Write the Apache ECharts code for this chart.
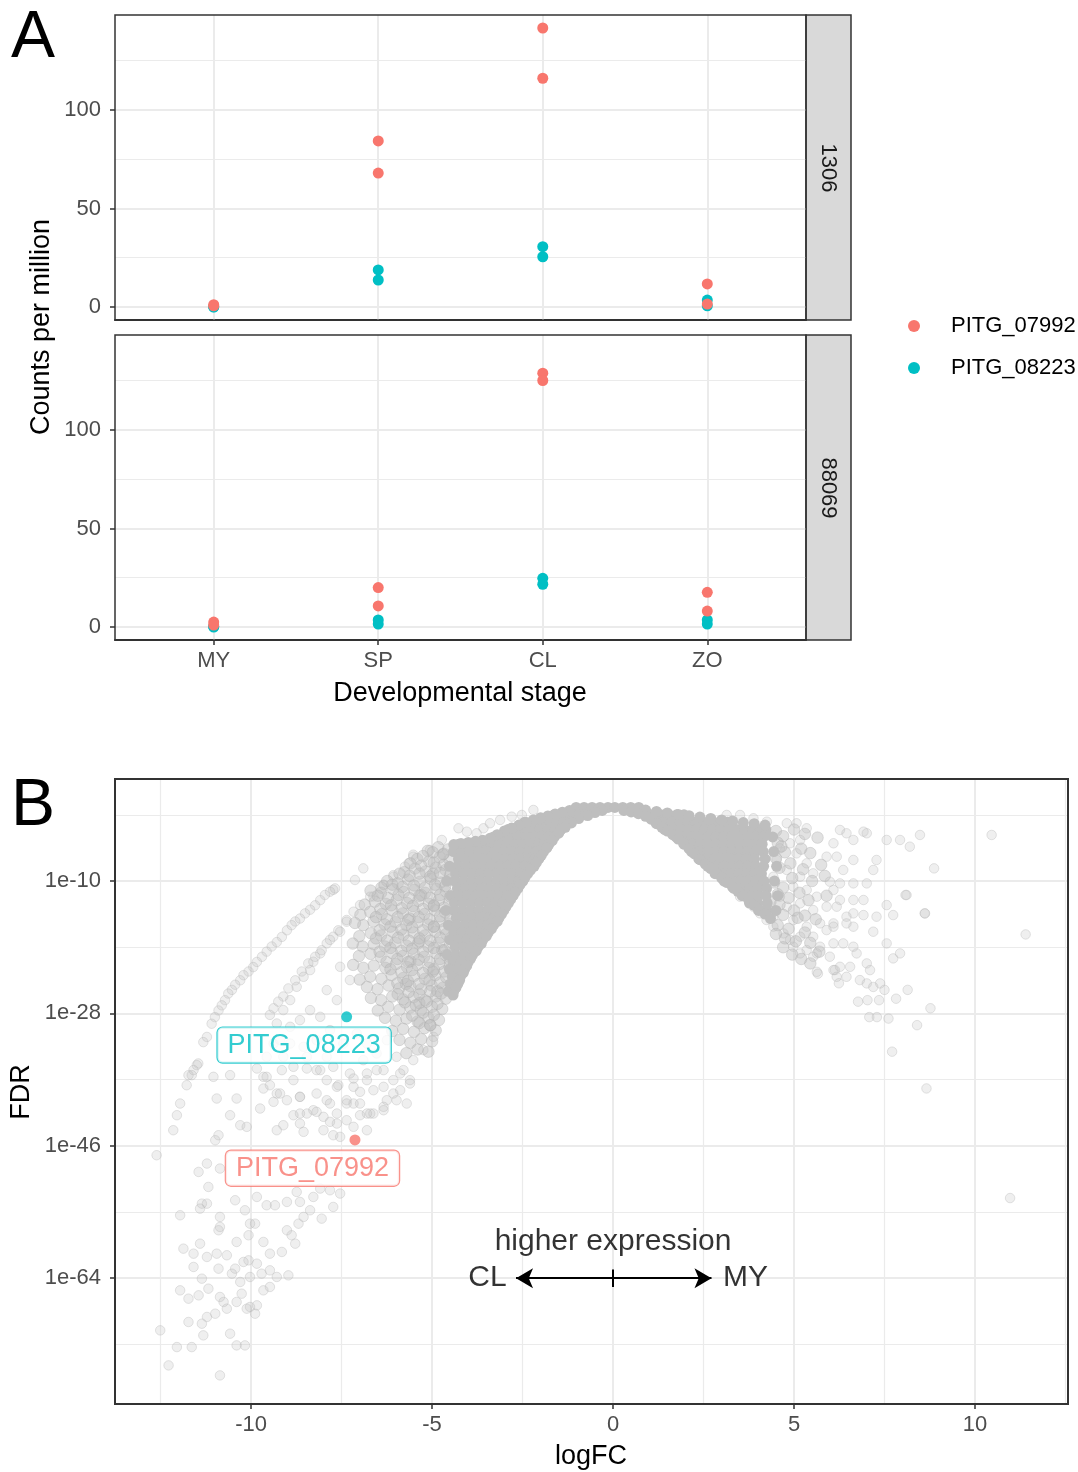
<!DOCTYPE html>
<html>
<head>
<meta charset="utf-8">
<title>PITG_07992 / PITG_08223 expression</title>
<script src="https://cdn.jsdelivr.net/npm/echarts@6.0.0/dist/echarts.min.js"></script>
<style>
  html, body { margin: 0; padding: 0; background: #fff; }
  #chart { width: 1078px; height: 1472px; }
</style>
</head>
<body>
<div id="chart"></div>
<script>
// ---- panel A: counts per million, two replicates per stage ----
var stages = ['MY', 'SP', 'CL', 'ZO'];
var strains = ['1306', '88069'];
var genes = ['PITG_07992', 'PITG_08223'];
var geneColors = ['#F8766D', '#00BFC4'];
var cpm1306_07992 = [[1.2, 0.6], [84.3, 68.0], [141.6, 116.1], [11.7, 1.5]];
var cpm1306_08223 = [[0, 0.1], [18.8, 13.7], [30.6, 25.5], [3.5, 0.6]];
var cpm88069_07992 = [[2.5, 1.0], [20.0, 10.7], [128.8, 125.1], [17.6, 8.1]];
var cpm88069_08223 = [[0, 0.3], [3.6, 1.5], [24.7, 21.7], [3.6, 1.5]];
var cpmTicks = [0, 50, 100];
var cpmMinor = [25, 75, 125];

// ---- panel B: logFC vs log10(FDR) ----
var fcTicks = [-10, -5, 0, 5, 10];
var fcMinor = [-12.5, -7.5, -2.5, 2.5, 7.5, 12.5];
var fdrTicks = [-64, -46, -28, -10];
var fdrMinor = [-73, -55, -37, -19, -1];

// dense core, one row per log10(FDR) level: [logFDR, logFC, logFC, ...]
var coreLeftRows = [
  [0, -1.02, -0.8, -0.58, -0.36, -0.14],
  [-1, -1.62, -1.4, -1.18, -0.96, -0.78],
  [-2, -2.44, -2.22, -2.0, -1.78, -1.56, -1.36, -1.18],
  [-3, -2.9, -2.68, -2.46, -2.24, -2.02, -1.8, -1.6, -1.44],
  [-4, -3.3, -3.08, -2.86, -2.64, -2.42, -2.2, -1.98, -1.78, -1.62],
  [-5, -4.26, -4.04, -3.82, -3.6, -3.38, -3.16, -2.94, -2.72, -2.5, -2.28, -2.06, -1.9, -1.77],
  [-6, -4.41, -4.18, -3.95, -3.72, -3.49, -3.26, -3.03, -2.8, -2.57, -2.34, -2.12, -1.92],
  [-7, -4.27, -4.06, -3.85, -3.64, -3.43, -3.22, -3.0, -2.78, -2.56, -2.34, -2.16, -2.05],
  [-8, -4.52, -4.29, -4.06, -3.83, -3.6, -3.37, -3.14, -2.91, -2.68, -2.45, -2.26, -2.18],
  [-9, -4.35, -4.12, -3.89, -3.66, -3.44, -3.22, -3.0, -2.78, -2.56, -2.36],
  [-10, -4.6, -4.37, -4.14, -3.91, -3.68, -3.45, -3.22, -3.0, -2.78, -2.6, -2.49],
  [-11, -4.3, -4.08, -3.86, -3.64, -3.42, -3.2, -3.0, -2.8, -2.63],
  [-12, -4.48, -4.25, -4.02, -3.79, -3.56, -3.34, -3.12, -2.92, -2.76],
  [-13, -4.38, -4.15, -3.92, -3.69, -3.46, -3.24, -3.04, -2.89],
  [-14, -4.62, -4.39, -4.16, -3.93, -3.7, -3.47, -3.24, -3.02],
  [-15, -4.33, -4.1, -3.88, -3.66, -3.44, -3.28, -3.15],
  [-16, -4.55, -4.32, -4.09, -3.86, -3.64, -3.46, -3.3],
  [-17, -4.4, -4.17, -3.94, -3.72, -3.52, -3.45],
  [-18, -4.5, -4.27, -4.04, -3.82, -3.6],
  [-19, -4.36, -4.13, -3.92, -3.73],
  [-20, -4.58, -4.35, -4.12, -3.88],
  [-21, -4.42, -4.2, -4.0],
  [-22, -4.52, -4.3, -4.1],
  [-23, -4.44, -4.22],
  [-24, -4.5, -4.29],
  [-25, -4.55, -4.4]
];
var coreRightRows = [
  [0, 0.05, 0.27, 0.49, 0.71],
  [-1, 0.88, 1.1, 1.32, 1.54, 1.76, 1.96],
  [-2, 1.18, 1.4, 1.62, 1.84, 2.06, 2.28, 2.5, 2.72, 2.94, 3.16, 3.3],
  [-3, 1.43, 1.65, 1.87, 2.09, 2.31, 2.53, 2.75, 2.97, 3.19, 3.41, 3.63, 3.85, 4.07, 4.22],
  [-4, 1.74, 1.96, 2.18, 2.4, 2.62, 2.84, 3.06, 3.28, 3.5, 3.72, 3.94, 4.16, 4.41],
  [-5, 1.97, 2.19, 2.41, 2.63, 2.85, 3.07, 3.29, 3.51, 3.73, 3.95, 4.12],
  [-6, 2.17, 2.39, 2.61, 2.83, 3.05, 3.27, 3.49, 3.71, 3.93, 4.15, 4.44],
  [-7, 2.37, 2.59, 2.81, 3.03, 3.25, 3.47, 3.69, 3.91, 4.2],
  [-8, 2.62, 2.84, 3.06, 3.28, 3.5, 3.72, 3.94, 4.16, 4.52],
  [-9, 2.82, 3.04, 3.26, 3.48, 3.7, 3.92, 4.1],
  [-10, 3.07, 3.29, 3.51, 3.73, 3.95, 4.17, 4.46],
  [-11, 3.34, 3.56, 3.78, 4.0, 4.24],
  [-12, 3.57, 3.79, 4.01, 4.23, 4.55],
  [-13, 3.77, 3.99, 4.26],
  [-14, 4.02, 4.24, 4.5]
];
// points along the edges of the dense core [logFC, logFDR]
var coreEdge = [
  [-1.2, -0.4], [-1.4, -0.65], [-1.6, -0.9], [-1.8, -1.15], [-2.0, -1.4], [-2.2, -1.7], [-2.4, -2.05], [-2.6, -2.4],
  [-2.8, -2.8], [-3.0, -3.2], [-3.2, -3.7], [-3.4, -4.2], [-3.6, -4.45], [-3.8, -4.6], [-4.0, -4.75], [-4.2, -4.9], [-4.4, -5.05],
  [-0.3, -0.4], [-0.5, -0.7], [-0.7, -1.1], [-0.95, -1.5], [-1.15, -2.1], [-1.32, -2.7], [-1.5, -3.5], [-1.68, -4.5],
  [-1.83, -5.5], [-1.98, -6.5], [-2.12, -7.5], [-2.28, -8.5], [-2.43, -9.5], [-2.57, -10.5], [-2.7, -11.5], [-2.83, -12.5],
  [-2.96, -13.5], [-3.08, -14.5], [-3.2, -15.5], [-3.36, -16.5], [-3.5, -17.5], [-3.64, -18.5], [-3.78, -19.5],
  [-3.93, -20.5], [-4.04, -21.5], [-4.14, -22.5], [-4.24, -23.5], [-4.34, -24.5], [-4.42, -25.5],
  [0.9, -0.35], [1.2, -0.55], [1.5, -0.75], [1.8, -0.95], [2.1, -1.12], [2.4, -1.3], [2.7, -1.5], [3.0, -1.7],
  [3.3, -1.85], [3.6, -2.05], [3.9, -2.2], [4.2, -2.4],
  [0.3, -0.4], [0.5, -0.6], [0.7, -0.85], [0.9, -1.2], [1.05, -1.6], [1.2, -2.2], [1.35, -2.7], [1.5, -3.2],
  [1.65, -3.7], [1.8, -4.3], [1.95, -4.9], [2.1, -5.6], [2.25, -6.3], [2.4, -7.1], [2.55, -7.7], [2.7, -8.3],
  [2.85, -8.9], [3.0, -9.6], [3.15, -10.2], [3.3, -10.8], [3.45, -11.4], [3.6, -12.0], [3.75, -12.6], [3.9, -13.3],
  [4.05, -13.9], [4.2, -14.5], [4.35, -15.1]
];
// crowded but not solid zone left of the core
var midLeft = [
  [-4.56, -5.7], [-4.83, -5.4], [-5.12, -5.9],
  [-4.52, -7.1], [-4.79, -6.8], [-5.08, -7.3], [-5.41, -7.0],
  [-4.63, -8.5], [-4.9, -8.2], [-5.18, -8.7], [-5.47, -8.3], [-5.77, -8.8],
  [-4.51, -9.9], [-4.76, -10.2], [-5.04, -9.7], [-5.33, -10.1], [-5.66, -9.8], [-5.95, -10.3], [-6.24, -10.0],
  [-4.62, -11.4], [-4.88, -11.1], [-5.19, -11.6], [-5.49, -11.2], [-5.78, -11.5], [-6.08, -11.1], [-6.41, -11.6], [-6.7, -11.3],
  [-4.53, -12.9], [-4.81, -12.6], [-5.09, -13.1], [-5.38, -12.7], [-5.69, -13.0], [-5.98, -12.6], [-6.28, -13.1], [-6.58, -12.8], [-6.86, -13.2],
  [-4.64, -14.3], [-4.92, -14.0], [-5.21, -14.5], [-5.5, -14.1], [-5.81, -14.4], [-6.1, -14.0], [-6.39, -14.5], [-6.71, -14.2], [-6.98, -14.6],
  [-4.52, -15.8], [-4.79, -15.5], [-5.11, -15.9], [-5.4, -15.6], [-5.71, -16.0], [-6.01, -15.6], [-6.31, -15.9], [-6.62, -15.5], [-6.9, -16.0], [-7.13, -15.7],
  [-4.61, -17.2], [-4.91, -16.9], [-5.2, -17.4], [-5.51, -17.0], [-5.79, -17.3], [-6.09, -16.9], [-6.41, -17.4], [-6.69, -17.1], [-7.01, -17.5],
  [-4.5, -18.7], [-4.81, -18.4], [-5.1, -18.9], [-5.39, -18.5], [-5.7, -18.8], [-6.02, -18.4], [-6.3, -18.9], [-6.61, -18.6], [-6.92, -18.9], [-7.19, -18.5],
  [-4.62, -20.1], [-4.9, -19.8], [-5.22, -20.3], [-5.5, -19.9], [-5.81, -20.2], [-6.1, -19.8], [-6.42, -20.3], [-6.7, -19.9], [-7.02, -20.2],
  [-4.52, -21.6], [-4.8, -21.3], [-5.09, -21.8], [-5.41, -21.4], [-5.69, -21.7], [-6.0, -21.3], [-6.29, -21.8], [-6.61, -21.5], [-6.9, -21.8], [-7.18, -21.4],
  [-4.61, -23.1], [-4.91, -22.8], [-5.2, -23.3], [-5.5, -22.9], [-5.8, -23.2], [-6.12, -22.8], [-6.4, -23.3], [-6.71, -23.0], [-7.0, -23.4],
  [-4.7, -24.5], [-5.01, -24.2], [-5.3, -24.7], [-5.6, -24.3], [-5.91, -24.6], [-6.2, -24.2], [-6.51, -24.7], [-6.8, -24.4],
  [-4.62, -26.0], [-4.9, -25.7], [-5.2, -26.2], [-5.51, -25.8], [-5.8, -26.1], [-6.1, -25.7], [-6.41, -26.2], [-6.69, -25.9],
  [-4.72, -27.4], [-5.0, -27.1], [-5.31, -27.6], [-5.6, -27.2], [-5.9, -27.5], [-6.21, -27.1], [-6.5, -27.6],
  [-4.81, -28.9], [-5.1, -28.6], [-5.4, -29.1], [-5.71, -28.7], [-6.0, -29.0], [-6.3, -28.6],
  [-4.9, -30.3], [-5.21, -30.0], [-5.5, -30.5], [-5.8, -30.1], [-6.1, -30.4],
  [-5.0, -31.8], [-5.3, -31.5], [-5.6, -32.0], [-5.9, -31.6],
  [-5.1, -33.2], [-5.4, -32.9], [-5.71, -33.4],
  [-4.68, -6.3], [-4.97, -9.0], [-5.3, -11.9], [-4.95, -13.4], [-5.62, -15.1], [-4.95, -16.2], [-5.35, -18.2],
  [-4.72, -19.4], [-5.6, -20.9], [-4.98, -22.3], [-5.72, -24.0], [-4.85, -25.0], [-5.35, -26.6], [-5.05, -29.6],
  [-4.7, -6.4], [-4.98, -6.1], [-5.25, -6.6],
  [-4.68, -7.8], [-4.95, -7.5], [-5.3, -7.9], [-5.6, -7.6],
  [-4.5, -9.2], [-4.78, -8.9], [-5.05, -9.4], [-5.35, -9.0], [-5.62, -9.3], [-5.9, -9.0],
  [-4.64, -10.7], [-4.92, -10.5], [-5.2, -10.9], [-5.5, -10.6], [-5.82, -10.8], [-6.1, -10.5], [-6.4, -10.9],
  [-4.5, -12.1], [-4.78, -11.9], [-5.05, -12.3], [-5.35, -12.0], [-5.63, -12.3], [-5.93, -11.9], [-6.22, -12.3], [-6.5, -12.0],
  [-4.67, -13.6], [-4.95, -13.3], [-5.25, -13.8], [-5.53, -13.4], [-5.84, -13.7], [-6.13, -13.3], [-6.43, -13.8],
  [-4.5, -15.0], [-4.78, -14.8], [-5.07, -15.2], [-5.37, -14.9], [-5.66, -15.3], [-5.95, -14.9], [-6.25, -15.2], [-6.55, -14.9],
  [-4.66, -16.5], [-4.95, -16.2], [-5.25, -16.7], [-5.55, -16.3], [-5.85, -16.6], [-6.15, -16.2], [-6.45, -16.7],
  [-4.5, -17.9], [-4.78, -17.7], [-5.05, -18.1], [-5.35, -17.8], [-5.64, -18.1], [-5.94, -17.7], [-6.24, -18.1], [-6.55, -17.8],
  [-4.66, -19.4], [-4.95, -19.1], [-5.25, -19.6], [-5.55, -19.2], [-5.85, -19.5], [-6.15, -19.1], [-6.45, -19.6],
  [-4.5, -20.8], [-4.78, -20.6], [-5.07, -21.0], [-5.37, -20.7], [-5.66, -21.0], [-5.96, -20.6], [-6.26, -21.0],
  [-4.66, -22.3], [-4.95, -22.0], [-5.25, -22.5], [-5.55, -22.1], [-5.85, -22.4], [-6.15, -22.0],
  [-4.78, -23.8], [-5.07, -23.5], [-5.37, -24.0], [-5.67, -23.6], [-5.96, -23.9],
  [-4.75, -25.3], [-5.05, -25.0], [-5.35, -25.4], [-5.65, -25.1], [-5.95, -25.4],
  [-4.85, -26.7], [-5.15, -26.4], [-5.45, -26.9], [-5.75, -26.5],
  [-4.95, -28.2], [-5.25, -27.9], [-5.55, -28.3],
  [-5.05, -29.6], [-5.35, -29.3]
];
// crowded zone right of the core
var midRight = [
  [4.5, -3.2], [4.7, -3.9], [4.55, -4.8], [4.75, -6.1], [4.5, -6.9], [4.9, -7.6], [4.6, -8.2], [4.45, -10.2],
  [4.7, -10.9], [4.95, -9.6], [4.55, -11.8], [4.85, -12.3], [4.6, -13.2], [5.0, -14.0], [4.7, -14.6], [4.55, -16.0],
  [4.85, -16.5], [5.1, -15.0], [4.75, -17.8], [5.05, -18.2], [5.3, -17.0], [4.95, -20.0], [5.2, -20.6], [5.45, -21.2],
  [4.65, -5.3], [5.2, -5.6], [5.3, -3.6], [5.0, -3.0], [5.45, -6.2], [5.25, -8.4], [5.5, -10.0], [5.15, -11.6],
  [5.4, -12.6], [5.3, -14.7], [5.6, -15.2], [5.45, -18.4], [5.7, -19.6], [4.35, -12.8], [4.4, -14.2], [4.5, -17.2],
  [4.7, -19.0], [5.75, -7.8], [5.65, -4.1], [5.85, -9.3], [5.9, -12.0]
];
// isolated genes, CL side
var sparseLeft = [
  [-7.68, -11.0], [-7.82, -11.45], [-7.96, -11.9], [-8.09, -12.6], [-8.23, -13.3], [-8.37, -13.9], [-8.51, -14.4],
  [-8.65, -15.1], [-8.78, -15.5], [-8.88, -16.0], [-9.01, -16.7], [-9.15, -17.6], [-9.29, -18.3], [-9.43, -18.9],
  [-9.57, -19.6], [-9.7, -20.3], [-9.84, -21.0], [-9.94, -21.7], [-10.07, -22.3], [-10.21, -22.8], [-10.3, -23.5],
  [-10.44, -24.1], [-10.53, -24.8], [-10.63, -25.3], [-10.72, -26.2], [-10.81, -26.9], [-10.9, -27.6], [-11.0, -28.5],
  [-11.09, -29.4], [-11.22, -31.2], [-11.32, -31.9], [-11.46, -34.8], [-11.59, -35.7], [-11.73, -36.4],
  [-6.9, -8.28], [-7.13, -9.86], [-5.52, -6.42], [-5.75, -8.05], [-6.07, -9.41], [-6.34, -10.54], [-6.71, -12.13],
  [-6.99, -13.27], [-7.17, -14.17], [-7.36, -15.53], [-7.54, -16.89], [-7.73, -17.57], [-7.91, -18.48], [-8.09, -19.84],
  [-8.28, -20.97], [-8.37, -22.11], [-8.55, -23.02], [-8.74, -24.38], [-8.92, -26.19], [-9.11, -27.55], [-9.29, -29.37],
  [-7.36, -15.3], [-7.59, -16.7], [-7.82, -18.0], [-8.05, -19.4], [-8.23, -20.3], [-8.42, -21.2], [-8.6, -22.3],
  [-8.78, -23.5], [-8.97, -24.6], [-9.11, -25.7], [-9.25, -26.4], [-9.38, -27.3], [-9.48, -28.2],
  [-7.73, -11.2], [-5.52, -6.69], [-5.65, -7.6], [-6.07, -9.2], [-6.34, -10.5], [-6.62, -12.1], [-5.06, -5.78],
  [-4.73, -4.42], [-4.27, -2.83], [-4.04, -3.29], [-3.77, -3.51], [-3.58, -2.83], [-3.4, -2.15], [-3.12, -1.7],
  [-2.8, -1.25], [-2.52, -1.02], [-2.2, -0.34],
  [-9.66, -36.62], [-9.48, -37.76], [-9.29, -38.89], [-9.01, -39.8], [-8.65, -39.34], [-8.28, -41.16], [-8.65, -41.61],
  [-7.91, -39.8], [-7.63, -37.98], [-7.27, -36.17], [-7.17, -37.98], [-6.8, -37.07], [-6.53, -35.71], [-6.34, -37.98],
  [-6.07, -37.07], [-5.79, -35.71], [-5.52, -34.35], [-5.24, -32.99], [-4.96, -31.18], [-5.61, -37.07], [-5.98, -39.8],
  [-6.34, -40.7], [-6.71, -41.61], [-6.99, -40.25], [-7.36, -39.8], [-7.63, -41.61], [-8.0, -42.06], [-8.19, -35.71],
  [-8.46, -33.9], [-8.83, -35.26], [-9.11, -33.9], [-9.38, -32.09], [-9.57, -33.9], [-8.92, -32.09],
  [-7.54, -21.66], [-7.27, -23.47], [-7.91, -24.83], [-7.63, -26.19], [-8.37, -27.55], [-8.09, -28.46], [-8.65, -28.91],
  [-7.82, -30.27], [-8.19, -31.63], [-8.55, -32.54], [-7.45, -32.09], [-7.08, -30.73], [-6.8, -32.09], [-6.53, -33.45],
  [-6.25, -31.63], [-5.98, -33.9], [-6.9, -34.35], [-7.91, -33.9], [-8.92, -29.82], [-9.2, -31.63],
  [-11.5, -35.03], [-11.64, -36.39], [-11.78, -37.76], [-11.04, -36.62], [-10.58, -36.39], [-10.95, -39.57], [-10.4, -39.57],
  [-11.96, -40.25], [-12.05, -41.84], [-12.15, -43.88], [-12.61, -47.28], [-10.58, -41.84], [-10.3, -43.2], [-10.12, -43.42],
  [-9.75, -40.93], [-9.66, -38.21], [-9.38, -40.02], [-9.2, -38.89], [-8.83, -37.07], [-8.65, -39.34], [-8.19, -41.38],
  [-8.46, -41.61], [-8.83, -41.84], [-9.29, -43.88], [-9.11, -43.2], [-8.65, -42.97], [-8.55, -44.1], [-9.84, -35.49],
  [-9.57, -36.62], [-9.15, -35.71], [-8.46, -35.49], [-8.09, -35.71], [-7.73, -35.26], [-7.59, -37.76], [-7.17, -36.85],
  [-6.8, -36.17], [-6.34, -35.71], [-5.88, -36.17], [-5.61, -37.53], [-5.7, -40.25], [-6.07, -38.89], [-6.34, -41.16],
  [-6.62, -41.61], [-6.8, -41.61], [-6.99, -41.84], [-7.17, -40.25], [-7.36, -40.25], [-7.82, -40.25], [-7.63, -42.97],
  [-7.82, -42.74], [-8.0, -43.88], [-7.73, -44.56], [-7.54, -44.78], [-6.8, -43.88], [-7.17, -43.42], [-10.9, -44.56],
  [-10.99, -45.24], [-11.22, -48.41], [-11.45, -49.55], [-10.86, -49.09], [-11.18, -51.59], [-11.36, -53.86], [-11.41, -54.54],
  [-11.22, -53.86], [-11.96, -55.44], [-10.44, -53.4], [-10.17, -54.76], [-9.84, -52.95], [-9.57, -54.08], [-9.34, -54.08],
  [-9.01, -53.63], [-8.74, -52.27], [-8.65, -53.63], [-8.28, -52.95], [-8.09, -51.81], [-7.82, -52.04], [-7.54, -52.49],
  [-7.73, -54.31], [-8.05, -55.9], [-8.37, -54.76], [-8.55, -55.67], [-8.69, -56.58], [-9.01, -57.48], [-8.88, -58.16],
  [-8.78, -59.3], [-9.15, -60.43], [-9.48, -60.66], [-9.66, -59.07], [-9.89, -56.58], [-10.03, -56.58], [-10.07, -58.16],
  [-10.4, -59.07], [-10.86, -55.67], [-10.86, -57.03], [-10.9, -57.48], [-11.87, -59.98], [-11.59, -60.66], [-11.41, -59.3],
  [-11.22, -61.11], [-10.95, -60.66], [-10.67, -60.88], [-10.44, -62.7], [-10.21, -61.79], [-10.07, -61.57], [-9.84, -62.02],
  [-9.71, -63.38], [-9.48, -62.93], [-9.29, -63.83], [-8.97, -63.61], [-10.03, -63.83], [-10.3, -64.51], [-10.53, -63.38],
  [-10.9, -62.7], [-11.59, -62.47], [-11.36, -64.06], [-11.18, -65.42], [-11.96, -65.65], [-11.73, -66.78], [-11.45, -66.33],
  [-10.86, -66.55], [-10.76, -67.23], [-10.67, -68.14], [-10.99, -68.82], [-11.22, -69.27], [-11.36, -70.18], [-11.73, -69.95],
  [-11.32, -71.77], [-10.4, -67.23], [-10.26, -66.1], [-10.03, -67.91], [-9.89, -68.82], [-10.12, -68.14], [-10.58, -71.54],
  [-10.4, -73.13], [-10.17, -73.13], [-12.05, -73.36], [-11.64, -73.36], [-12.28, -75.85], [-12.51, -71.09], [-10.86, -77.21],
  [-9.84, -67.69], [-9.66, -65.65], [-9.48, -65.19],
  [-6.62, -38.44], [-6.99, -38.66], [-6.25, -39.8], [-5.88, -38.44], [-7.36, -42.52], [-8.19, -38.89], [-7.91, -37.07]
];
// isolated genes, MY side
var sparseRight = [
  [4.8, -2.15], [5.07, -2.15], [5.35, -2.83], [5.17, -4.42], [4.89, -4.87], [4.61, -5.56], [4.52, -7.14], [5.07, -6.24],
  [5.35, -7.6], [4.8, -8.5], [4.43, -9.41], [5.17, -9.41], [5.53, -8.96], [4.98, -10.77], [5.35, -11.22], [5.63, -12.13],
  [4.61, -12.13], [4.8, -13.49], [5.17, -13.04], [5.53, -13.95], [4.43, -14.85], [4.98, -15.31], [5.35, -16.21], [5.72, -15.76],
  [4.71, -17.12], [5.17, -17.57], [5.53, -17.57], [5.9, -16.67], [4.98, -18.93], [5.35, -19.39], [5.72, -18.93], [6.09, -11.22],
  [5.9, -13.49], [6.09, -15.76], [6.27, -3.06], [6.45, -3.51], [6.64, -4.42], [6.92, -3.29], [7.01, -3.51], [6.09, -4.87],
  [5.9, -6.69], [6.18, -6.69], [6.36, -8.5], [6.64, -7.14], [7.19, -8.5], [7.28, -7.14], [7.56, -4.42], [7.93, -4.42],
  [8.2, -5.33], [8.48, -3.74], [5.99, -10.09], [6.27, -10.32], [6.64, -10.32], [7.01, -10.32], [6.27, -12.58], [6.64, -12.58],
  [6.92, -12.58], [6.18, -13.49], [6.45, -14.85], [6.64, -14.4], [6.92, -14.63], [7.28, -14.85], [7.56, -13.27], [7.74, -14.63],
  [8.11, -11.9], [8.62, -14.4], [6.09, -16.21], [6.45, -15.76], [6.64, -16.21], [7.19, -16.89], [7.56, -18.48], [6.09, -18.48],
  [6.36, -18.48], [6.64, -18.93], [6.73, -19.84], [5.63, -19.84], [5.99, -20.29], [6.27, -21.66], [6.55, -21.66], [7.01, -21.2],
  [7.1, -22.11], [6.09, -22.11], [6.18, -23.02], [6.45, -23.02], [6.82, -23.47], [7.01, -23.92], [7.38, -23.92], [5.63, -22.34],
  [7.74, -20.52], [7.93, -19.84],
  [3.51, -12.13], [3.88, -13.49], [4.06, -14.4], [4.24, -15.3], [4.43, -16.2], [4.89, -18.0], [5.17, -19.84], [5.53, -20.3],
  [3.14, -1.02], [3.51, -1.02], [3.88, -1.47], [4.25, -1.93],
  [5.66, -22.6], [6.13, -22.1], [6.24, -23.9], [6.77, -26.4], [7.03, -26.2], [7.19, -24.4], [7.5, -24.8], [7.35, -26.2],
  [7.82, -26.0], [8.14, -24.8], [8.77, -27.3], [7.08, -28.5], [7.29, -28.5], [7.61, -28.7], [8.4, -29.6], [7.71, -33.2],
  [8.66, -38.2], [8.87, -8.28], [8.61, -14.4], [8.08, -11.9],
  [10.46, -3.74], [11.4, -17.26], [10.97, -53.1]
];
// the two labelled genes
var hitGenes = ['PITG_08223', 'PITG_07992'];
var hitLogFC = [-7.36, -7.13];
var hitLogFDR = [-28.46, -45.2];

var FONT = 'Liberation Sans';

function rowsToPoints(rows) {
  var pts = [];
  rows.forEach(function (row) {
    for (var i = 1; i < row.length; i++) pts.push([row[i], row[0]]);
  });
  return pts;
}

function stageSeries(name, gi, reps, color) {
  var data = [];
  reps.forEach(function (vals, i) {
    vals.forEach(function (v) { data.push([i + 1, v]); });
  });
  return {
    type: 'scatter', name: name, xAxisIndex: gi, yAxisIndex: gi, data: data,
    symbolSize: 11, itemStyle: { color: color, opacity: 1 }, z: 3, silent: true
  };
}

// grid lines as markLines so that major and minor lines sit where ggplot puts them
function gridLines(gi, xMajor, xMinor, yMajor, yMinor) {
  var lines = [];
  xMajor.forEach(function (v) { lines.push({ xAxis: v, lineStyle: { width: 2 } }); });
  xMinor.forEach(function (v) { lines.push({ xAxis: v, lineStyle: { width: 1.2 } }); });
  yMajor.forEach(function (v) { lines.push({ yAxis: v, lineStyle: { width: 2 } }); });
  yMinor.forEach(function (v) { lines.push({ yAxis: v, lineStyle: { width: 1.2 } }); });
  return {
    type: 'scatter', name: 'grid' + gi, xAxisIndex: gi, yAxisIndex: gi, data: [], silent: true, z: 1,
    markLine: {
      silent: true, symbol: ['none', 'none'], z: 1, animation: false,
      label: { show: false }, emphasis: { disabled: true },
      lineStyle: { color: '#EBEBEB', type: 'solid' },
      data: lines
    }
  };
}

var tickStyle = { color: '#333333', width: 1.5 };
var labelStyle = { color: '#4D4D4D', fontSize: 22, fontFamily: FONT };

function stageAxis(gi, showLabels) {
  return {
    type: 'value', gridIndex: gi, min: 0.4, max: 4.6,
    splitLine: { show: false },
    axisLine: { show: true, onZero: false, lineStyle: { color: '#333333', width: 2 } },
    axisTick: { show: showLabels, customValues: [1, 2, 3, 4], length: 5, lineStyle: tickStyle },
    axisLabel: Object.assign({
      show: showLabels, customValues: [1, 2, 3, 4], margin: 10,
      formatter: function (v) { return stages[Math.round(v) - 1]; }
    }, labelStyle)
  };
}

function cpmAxis(gi) {
  return {
    type: 'value', gridIndex: gi, min: -6.6, max: 148.2,
    splitLine: { show: false },
    axisLine: { show: false, onZero: false },
    axisTick: { show: true, customValues: cpmTicks, length: 5, lineStyle: tickStyle },
    axisLabel: Object.assign({ customValues: cpmTicks, margin: 14 }, labelStyle)
  };
}

var panelGrid = { show: true, backgroundColor: 'transparent', borderColor: '#333333', borderWidth: 1.5, z: 4, outerBoundsMode: 'none' };

var greyFaint = { color: 'rgba(190,190,190,0.3)', borderColor: 'rgba(180,180,180,0.45)', borderWidth: 1 };
var greyMid = { color: 'rgba(190,190,190,0.55)', borderColor: 'rgba(175,175,175,0.5)', borderWidth: 1 };

var hitData = hitGenes.map(function (g, i) {
  var c = geneColors[genes.indexOf(g)];
  return {
    name: g, value: [hitLogFC[i], hitLogFDR[i]], itemStyle: { color: c },
    label: { color: c, borderColor: c }
  };
});

// annotation anchors, in data units
var noteText = [
  { name: 'higher expression', value: [0, -59.1] },
  { name: 'CL', value: [-3.47, -64] },
  { name: 'MY', value: [3.66, -64] }
];
var arrowFrom = -2.68, arrowTo = 2.72, arrowY = -64;

var option = {
  animation: false,
  textStyle: { fontFamily: FONT },
  grid: [
    Object.assign({ left: 115, top: 15, width: 691, height: 305 }, panelGrid),
    Object.assign({ left: 115, top: 335, width: 691, height: 305 }, panelGrid),
    Object.assign({ left: 115, top: 779, width: 953, height: 625 }, panelGrid, { borderWidth: 2 })
  ],
  xAxis: [
    stageAxis(0, false),
    stageAxis(1, true),
    {
      type: 'value', gridIndex: 2, min: -13.76, max: 12.57,
      splitLine: { show: false },
      axisLine: { show: true, onZero: false, lineStyle: { color: '#333333', width: 2 } },
      axisTick: { show: true, customValues: fcTicks, length: 5, lineStyle: tickStyle },
      axisLabel: Object.assign({ customValues: fcTicks, margin: 10 }, labelStyle)
    }
  ],
  yAxis: [
    cpmAxis(0),
    cpmAxis(1),
    {
      type: 'value', gridIndex: 2, min: -81.1, max: 3.87,
      splitLine: { show: false },
      axisLine: { show: false, onZero: false },
      axisTick: { show: true, customValues: fdrTicks, length: 5, lineStyle: tickStyle },
      axisLabel: Object.assign({
        customValues: fdrTicks, margin: 14,
        formatter: function (v) { return '1e' + v; }
      }, labelStyle)
    }
  ],
  legend: {
    data: genes, orient: 'vertical', left: 903, top: 310,
    itemWidth: 64, itemHeight: 12, itemGap: 20, icon: 'circle', selectedMode: false,
    textStyle: { fontSize: 22, color: '#000', fontFamily: FONT }
  },
  graphic: [
    { type: 'text', x: 11, y: 39, style: { text: 'A', fontSize: 66, fontFamily: FONT, fill: '#000', textAlign: 'left', textVerticalAlign: 'middle' } },
    { type: 'text', x: 11, y: 807, style: { text: 'B', fontSize: 66, fontFamily: FONT, fill: '#000', textAlign: 'left', textVerticalAlign: 'middle' } },
    { type: 'rect', shape: { x: 806, y: 15, width: 45, height: 305 }, style: { fill: '#D9D9D9', stroke: '#333333', lineWidth: 1.5 } },
    { type: 'rect', shape: { x: 806, y: 335, width: 45, height: 305 }, style: { fill: '#D9D9D9', stroke: '#333333', lineWidth: 1.5 } },
    { type: 'text', x: 828, y: 168, rotation: -Math.PI / 2, style: { text: strains[0], fontSize: 22, fontFamily: FONT, fill: '#1A1A1A', textAlign: 'center', textVerticalAlign: 'middle' } },
    { type: 'text', x: 828, y: 488, rotation: -Math.PI / 2, style: { text: strains[1], fontSize: 22, fontFamily: FONT, fill: '#1A1A1A', textAlign: 'center', textVerticalAlign: 'middle' } },
    { type: 'text', x: 42, y: 327, rotation: Math.PI / 2, style: { text: 'Counts per million', fontSize: 27, fontFamily: FONT, fill: '#000', textAlign: 'center', textVerticalAlign: 'middle' } },
    { type: 'text', x: 460, y: 694, style: { text: 'Developmental stage', fontSize: 27, fontFamily: FONT, fill: '#000', textAlign: 'center', textVerticalAlign: 'middle' } },
    { type: 'text', x: 22, y: 1092, rotation: Math.PI / 2, style: { text: 'FDR', fontSize: 27, fontFamily: FONT, fill: '#000', textAlign: 'center', textVerticalAlign: 'middle' } },
    { type: 'text', x: 591, y: 1457, style: { text: 'logFC', fontSize: 27, fontFamily: FONT, fill: '#000', textAlign: 'center', textVerticalAlign: 'middle' } }
  ],
  series: [
    gridLines(0, [1, 2, 3, 4], [], cpmTicks, cpmMinor),
    gridLines(1, [1, 2, 3, 4], [], cpmTicks, cpmMinor),
    gridLines(2, fcTicks, fcMinor, fdrTicks, fdrMinor),
    stageSeries(genes[1], 0, cpm1306_08223, geneColors[1]),
    stageSeries(genes[0], 0, cpm1306_07992, geneColors[0]),
    stageSeries(genes[1], 1, cpm88069_08223, geneColors[1]),
    stageSeries(genes[0], 1, cpm88069_07992, geneColors[0]),
    {
      type: 'scatter', name: 'sparse', xAxisIndex: 2, yAxisIndex: 2, silent: true, z: 2,
      data: sparseLeft.concat(sparseRight), symbolSize: 9.5, itemStyle: greyFaint
    },
    {
      type: 'scatter', name: 'crowded', xAxisIndex: 2, yAxisIndex: 2, silent: true, z: 2,
      data: midLeft.concat(midRight), symbolSize: 11.5, itemStyle: greyMid
    },
    {
      type: 'scatter', name: 'core', xAxisIndex: 2, yAxisIndex: 2, silent: true, z: 2,
      data: rowsToPoints(coreLeftRows).concat(rowsToPoints(coreRightRows), coreEdge),
      symbolSize: 11, itemStyle: { color: '#BEBEBE', opacity: 1 }
    },
    {
      type: 'scatter', name: 'hits', xAxisIndex: 2, yAxisIndex: 2, silent: true, z: 10,
      data: hitData, symbolSize: 11,
      label: {
        show: true, position: 'inside', offset: [-42.5, 28.3], formatter: '{b}',
        fontSize: 27, fontFamily: FONT, backgroundColor: '#fff', borderWidth: 1.2,
        borderRadius: 5, padding: [4, 10]
      }
    },
    {
      type: 'scatter', name: 'note', xAxisIndex: 2, yAxisIndex: 2, silent: true, z: 10,
      data: noteText, symbolSize: 0,
      label: { show: true, position: 'inside', formatter: '{b}', fontSize: 30, color: '#000', fontFamily: FONT },
      markLine: {
        silent: true, animation: false, symbol: ['none', 'none'],
        label: { show: false }, emphasis: { disabled: true },
        lineStyle: { color: '#000', width: 2, type: 'solid' },
        data: [
          [{ coord: [arrowFrom, arrowY], symbol: 'arrow', symbolSize: [15, 17] },
           { coord: [arrowTo, arrowY], symbol: 'arrow', symbolSize: [15, 17] }],
          [{ coord: [0, arrowY + 1.2] }, { coord: [0, arrowY - 1.2] }]
        ]
      }
    }
  ]
};

var chart = echarts.init(document.getElementById('chart'), null, { renderer: 'canvas' });
chart.setOption(option);
</script>
</body>
</html>
